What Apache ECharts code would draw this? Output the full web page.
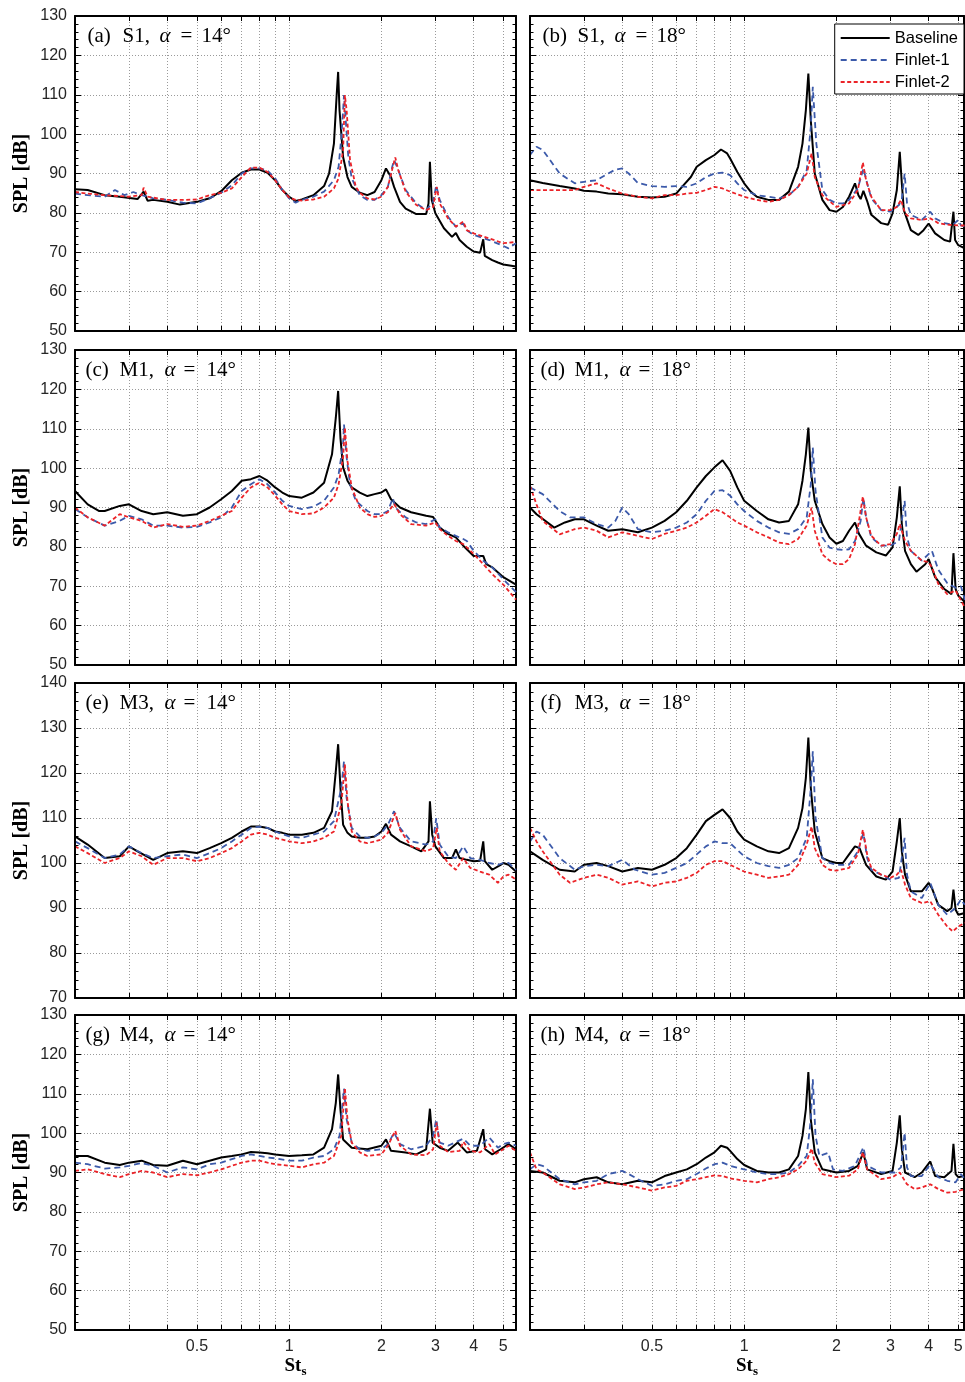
<!DOCTYPE html>
<html>
<head>
<meta charset="utf-8">
<script src="https://cdn.jsdelivr.net/npm/echarts@6/dist/echarts.min.js"></script>
<style>
  html, body { margin: 0; padding: 0; background: #fff; }
  #chart { width: 965px; height: 1382px; }
</style>
</head>
<body>
<div id="chart"></div>
<script>
// ---- axis ticks / labels -------------------------------------------------
const xGridValues  = [0.2, 0.3, 0.4, 0.5, 0.6, 0.7, 0.8, 0.9, 1, 2, 3, 4, 5];
const xLabelValues = [0.5, 1, 2, 3, 4, 5];
const xRange = [0.2, 5.5];
const yRangeDefault = [50, 130];
const yRangeM3 = [70, 140];

// ---- spectra: [St_s, SPL dB] ---------------------------------------------
// S1, alpha = 14
const s1_14_base = [[0.2,86.0],[0.22,85.8],[0.25,84.5],[0.28,84.1],[0.32,83.5],[0.335,85.4],[0.345,83.1],[0.36,83.3],[0.4,82.8],[0.44,82.1],[0.5,82.8],[0.55,83.7],[0.6,85.5],[0.65,88.3],[0.7,90.2],[0.75,91.0],[0.8,91.0],[0.85,90.2],[0.9,88.3],[0.95,85.8],[1.0,84.1],[1.05,83.0],[1.1,83.4],[1.2,84.5],[1.3,86.8],[1.35,90.0],[1.4,97.6],[1.43,110.3],[1.445,115.8],[1.46,106.1],[1.5,94.2],[1.55,89.1],[1.6,86.6],[1.7,85.1],[1.8,84.5],[1.9,85.3],[2.0,88.3],[2.07,91.3],[2.15,89.1],[2.2,86.6],[2.3,82.8],[2.4,81.1],[2.6,79.7],[2.8,79.7],[2.85,82.4],[2.88,93.0],[2.92,83.3],[3.0,79.9],[3.2,76.1],[3.4,73.9],[3.5,74.9],[3.6,73.1],[3.8,71.4],[4.0,70.2],[4.2,69.9],[4.3,73.3],[4.35,69.1],[4.6,68.0],[4.8,67.4],[5.0,66.9],[5.5,66.4]];
const s1_14_fin1 = [[0.2,84.9],[0.22,84.5],[0.25,84.1],[0.27,85.8],[0.29,84.5],[0.31,85.3],[0.33,84.5],[0.36,83.7],[0.4,83.3],[0.45,82.6],[0.5,82.4],[0.55,83.7],[0.6,85.1],[0.65,87.0],[0.7,90.0],[0.75,91.3],[0.8,91.3],[0.85,90.7],[0.9,88.8],[0.95,85.8],[1.0,83.7],[1.05,82.6],[1.1,83.3],[1.2,84.1],[1.3,85.4],[1.4,88.3],[1.45,91.7],[1.48,99.3],[1.5,106.1],[1.51,109.9],[1.53,103.5],[1.56,94.2],[1.6,88.8],[1.7,84.5],[1.8,83.3],[1.9,83.3],[2.0,84.5],[2.1,86.6],[2.17,91.7],[2.2,93.4],[2.25,91.7],[2.4,85.8],[2.6,82.4],[2.8,80.7],[2.95,82.8],[3.02,87.0],[3.1,83.3],[3.3,79.0],[3.5,76.5],[3.7,77.3],[3.8,75.6],[4.0,74.4],[4.5,73.1],[5.0,71.6],[5.2,71.0],[5.5,72.3]];
const s1_14_fin2 = [[0.2,85.3],[0.22,84.9],[0.25,84.5],[0.3,84.1],[0.33,84.5],[0.335,86.4],[0.345,84.1],[0.4,83.3],[0.45,83.3],[0.5,83.4],[0.55,84.5],[0.6,85.1],[0.65,86.2],[0.7,89.1],[0.75,91.5],[0.8,91.5],[0.85,90.4],[0.9,88.3],[0.95,85.8],[1.0,83.9],[1.05,83.3],[1.1,83.1],[1.2,83.4],[1.3,84.1],[1.4,86.2],[1.45,88.8],[1.5,95.9],[1.52,109.9],[1.54,106.1],[1.58,93.4],[1.65,86.6],[1.7,85.1],[1.8,83.7],[1.9,83.4],[2.0,84.1],[2.1,86.6],[2.18,91.7],[2.22,94.1],[2.27,90.9],[2.4,85.4],[2.6,82.0],[2.8,80.7],[2.95,81.5],[3.03,86.6],[3.1,82.4],[3.3,78.6],[3.5,76.5],[3.7,77.8],[3.8,75.6],[4.0,74.8],[4.5,73.5],[5.0,72.3],[5.5,72.6]];

// S1, alpha = 18
const s1_18_base = [[0.2,88.3],[0.22,87.6],[0.25,86.8],[0.28,86.2],[0.3,85.6],[0.33,85.4],[0.36,84.9],[0.4,84.7],[0.45,84.1],[0.5,83.9],[0.55,84.1],[0.6,84.9],[0.63,86.8],[0.67,89.1],[0.7,91.7],[0.75,93.4],[0.8,94.7],[0.84,96.1],[0.88,95.1],[0.9,93.8],[0.95,90.4],[1.0,87.5],[1.05,85.4],[1.1,84.1],[1.2,83.3],[1.3,83.3],[1.4,85.4],[1.5,91.7],[1.55,97.6],[1.59,106.1],[1.62,115.4],[1.65,103.5],[1.7,90.0],[1.8,83.3],[1.9,80.7],[2.0,80.3],[2.1,81.5],[2.2,84.1],[2.3,87.5],[2.36,84.5],[2.4,83.5],[2.45,85.6],[2.52,83.0],[2.6,79.5],[2.8,77.4],[2.95,77.0],[3.05,79.9],[3.15,85.8],[3.22,95.5],[3.27,87.5],[3.32,80.7],[3.5,75.6],[3.7,74.4],[3.85,75.6],[4.0,77.3],[4.2,74.8],[4.5,73.1],[4.7,72.7],[4.82,80.3],[4.88,73.1],[5.0,71.8],[5.25,71.0]];
const s1_18_fin1 = [[0.2,94.7],[0.21,96.8],[0.22,96.0],[0.25,90.0],[0.28,87.5],[0.3,87.9],[0.33,88.3],[0.36,90.0],[0.38,91.0],[0.4,91.3],[0.42,90.0],[0.45,87.6],[0.5,86.8],[0.55,86.6],[0.6,86.8],[0.65,86.6],[0.7,87.5],[0.75,89.1],[0.8,90.0],[0.85,90.2],[0.9,89.6],[0.95,87.5],[1.0,85.8],[1.1,84.5],[1.2,84.1],[1.3,83.7],[1.4,84.5],[1.5,86.6],[1.6,90.8],[1.65,101.8],[1.675,112.0],[1.72,97.6],[1.8,85.8],[1.9,83.3],[2.0,82.4],[2.1,82.4],[2.2,83.3],[2.35,86.2],[2.45,91.3],[2.52,87.5],[2.6,83.7],[2.8,80.7],[3.0,80.3],[3.2,82.0],[3.27,83.5],[3.34,90.0],[3.4,82.5],[3.5,79.5],[3.8,78.2],[4.05,80.3],[4.2,78.6],[4.5,77.4],[4.8,77.0],[5.0,78.2],[5.1,76.8],[5.25,76.5]];
const s1_18_fin2 = [[0.2,85.8],[0.25,85.8],[0.28,85.8],[0.3,86.6],[0.33,87.5],[0.36,86.2],[0.4,84.9],[0.45,84.1],[0.5,83.7],[0.55,84.5],[0.6,84.5],[0.65,84.9],[0.7,85.1],[0.75,85.8],[0.8,86.6],[0.85,86.2],[0.9,85.4],[1.0,84.1],[1.1,83.3],[1.2,82.8],[1.3,83.3],[1.4,84.5],[1.5,86.6],[1.6,90.0],[1.66,95.1],[1.7,89.1],[1.8,84.5],[2.0,81.5],[2.2,82.4],[2.35,85.8],[2.44,92.8],[2.5,88.3],[2.6,84.1],[2.8,80.7],[3.0,80.7],[3.15,81.5],[3.25,83.3],[3.35,79.9],[3.5,78.6],[3.8,78.2],[4.05,78.6],[4.3,77.4],[4.6,77.0],[5.0,76.8],[5.25,76.8]];

// M1, alpha = 14
const m1_14_base = [[0.2,94.2],[0.22,90.8],[0.24,89.1],[0.25,89.1],[0.28,90.4],[0.3,90.8],[0.33,89.1],[0.36,88.3],[0.4,88.8],[0.45,87.9],[0.5,88.3],[0.55,90.0],[0.6,92.1],[0.65,94.2],[0.7,96.8],[0.75,97.2],[0.8,98.0],[0.85,96.8],[0.9,95.1],[0.95,93.8],[1.0,92.9],[1.1,92.5],[1.2,93.8],[1.3,96.3],[1.38,103.5],[1.42,112.8],[1.445,119.6],[1.47,107.7],[1.5,100.2],[1.55,96.8],[1.6,95.1],[1.7,93.8],[1.8,92.9],[1.9,93.4],[2.0,93.8],[2.07,94.6],[2.15,92.1],[2.3,90.0],[2.5,88.8],[2.8,87.9],[2.95,87.6],[3.1,84.9],[3.3,83.3],[3.5,82.4],[3.7,80.3],[4.0,77.7],[4.3,77.7],[4.4,75.6],[4.6,74.8],[5.0,72.3],[5.5,70.4]];
const m1_14_fin1 = [[0.2,89.6],[0.22,87.5],[0.25,85.4],[0.28,86.6],[0.3,87.9],[0.33,87.0],[0.36,85.4],[0.4,85.4],[0.45,84.9],[0.5,85.1],[0.55,86.2],[0.6,87.5],[0.65,90.0],[0.7,94.2],[0.75,95.9],[0.8,97.2],[0.85,95.9],[0.9,93.8],[0.95,91.7],[1.0,90.4],[1.1,89.6],[1.2,90.2],[1.3,91.7],[1.4,95.1],[1.45,98.4],[1.5,106.1],[1.51,111.1],[1.54,102.7],[1.58,95.9],[1.65,91.7],[1.8,89.1],[1.9,88.3],[2.0,88.3],[2.1,89.1],[2.18,92.4],[2.22,90.0],[2.4,87.5],[2.6,86.2],[2.8,85.8],[3.0,87.0],[3.1,84.9],[3.3,83.7],[3.5,82.8],[3.7,82.0],[3.8,81.5],[4.0,79.0],[4.3,76.5],[4.6,74.8],[5.0,71.8],[5.5,68.5]];
const m1_14_fin2 = [[0.2,90.0],[0.22,87.5],[0.25,85.4],[0.28,88.3],[0.3,87.5],[0.33,86.6],[0.36,84.9],[0.4,85.8],[0.45,85.1],[0.5,85.4],[0.55,86.6],[0.6,87.9],[0.65,89.1],[0.7,92.5],[0.75,95.1],[0.8,96.3],[0.85,95.1],[0.9,93.0],[0.95,90.8],[1.0,89.1],[1.1,88.3],[1.2,88.5],[1.3,90.0],[1.4,92.5],[1.45,95.9],[1.5,102.7],[1.52,110.3],[1.55,101.8],[1.6,95.1],[1.7,90.0],[1.8,88.3],[1.9,87.6],[2.0,87.9],[2.1,88.8],[2.2,90.9],[2.3,88.3],[2.5,85.8],[2.8,85.4],[3.0,86.2],[3.1,84.5],[3.3,82.8],[3.5,81.5],[3.7,80.7],[4.0,78.2],[4.3,75.6],[4.6,73.1],[5.0,70.4],[5.5,66.6]];

// M1, alpha = 18
const m1_18_base = [[0.2,90.0],[0.21,88.3],[0.24,84.9],[0.26,86.2],[0.28,87.0],[0.3,87.0],[0.33,85.4],[0.36,84.1],[0.4,84.5],[0.45,83.7],[0.5,84.9],[0.55,86.6],[0.6,88.8],[0.65,91.7],[0.7,95.1],[0.75,98.0],[0.8,100.2],[0.85,102.0],[0.9,99.3],[0.95,95.1],[1.0,91.7],[1.1,89.1],[1.2,87.0],[1.3,86.2],[1.4,86.6],[1.5,90.8],[1.55,96.8],[1.59,103.5],[1.62,110.3],[1.65,99.3],[1.7,91.7],[1.8,85.8],[1.9,82.4],[2.0,80.8],[2.1,81.5],[2.2,84.1],[2.3,86.2],[2.37,83.3],[2.5,80.3],[2.7,78.6],[2.9,77.8],[3.05,79.9],[3.15,87.5],[3.22,95.4],[3.27,85.8],[3.35,79.0],[3.5,75.6],[3.65,73.7],[3.9,75.6],[4.0,76.9],[4.2,72.3],[4.5,69.3],[4.75,68.0],[4.82,78.4],[4.9,69.3],[5.0,67.6],[5.25,66.0]];
const m1_18_fin1 = [[0.2,95.1],[0.22,93.4],[0.25,89.1],[0.27,87.5],[0.3,87.5],[0.33,85.8],[0.36,84.9],[0.38,86.6],[0.4,90.0],[0.42,88.3],[0.45,84.5],[0.5,83.7],[0.55,84.1],[0.6,84.9],[0.65,86.2],[0.7,88.3],[0.75,91.7],[0.8,94.2],[0.85,94.4],[0.9,93.0],[0.95,90.8],[1.0,89.1],[1.1,86.6],[1.2,84.9],[1.3,83.7],[1.4,83.3],[1.5,84.5],[1.6,87.5],[1.65,95.9],[1.675,105.2],[1.71,94.2],[1.8,82.4],[1.9,79.8],[2.0,79.4],[2.1,79.2],[2.2,79.4],[2.3,81.5],[2.4,86.6],[2.45,92.5],[2.5,87.5],[2.6,82.4],[2.8,80.3],[3.0,80.3],[3.2,81.5],[3.34,91.7],[3.4,82.4],[3.5,79.0],[3.8,76.5],[4.1,79.0],[4.3,74.2],[4.6,70.8],[4.9,69.6],[5.1,70.0],[5.25,66.5]];
const m1_18_fin2 = [[0.2,95.5],[0.21,90.8],[0.22,86.6],[0.25,83.2],[0.28,84.5],[0.3,84.9],[0.33,84.1],[0.36,82.4],[0.4,83.7],[0.45,82.8],[0.5,82.0],[0.55,83.3],[0.6,84.1],[0.65,84.9],[0.7,86.2],[0.75,87.9],[0.8,89.6],[0.85,88.8],[0.9,87.5],[0.95,86.2],[1.0,85.4],[1.1,83.7],[1.2,82.4],[1.3,81.1],[1.4,80.7],[1.5,82.0],[1.6,85.4],[1.66,90.0],[1.7,84.1],[1.8,78.1],[1.9,76.5],[2.0,75.6],[2.1,75.6],[2.2,76.9],[2.3,80.7],[2.38,87.5],[2.44,92.8],[2.5,87.5],[2.6,82.8],[2.8,80.3],[3.0,80.7],[3.15,83.3],[3.22,85.8],[3.35,81.5],[3.5,79.0],[3.8,76.5],[4.0,76.1],[4.1,74.8],[4.3,70.6],[4.6,68.0],[4.9,68.9],[5.25,64.6]];

// M3, alpha = 14
const m3_14_base = [[0.2,105.9],[0.22,104.1],[0.25,101.1],[0.28,101.5],[0.3,103.7],[0.32,102.6],[0.36,100.7],[0.4,102.2],[0.45,102.6],[0.5,102.2],[0.55,103.3],[0.6,104.4],[0.65,105.6],[0.7,107.0],[0.75,108.1],[0.8,108.1],[0.85,107.8],[0.9,107.0],[0.95,106.7],[1.0,106.3],[1.1,106.3],[1.2,106.7],[1.3,107.8],[1.38,111.5],[1.42,120.4],[1.445,126.4],[1.47,116.7],[1.5,108.5],[1.55,106.7],[1.6,105.9],[1.7,105.6],[1.8,105.6],[1.9,105.9],[2.0,107.0],[2.07,108.7],[2.15,106.3],[2.3,104.8],[2.5,103.7],[2.7,102.6],[2.85,104.8],[2.88,113.7],[2.93,106.3],[3.0,103.7],[3.2,101.1],[3.4,101.1],[3.5,103.0],[3.6,101.1],[3.8,100.7],[4.0,100.4],[4.2,100.5],[4.3,104.8],[4.35,100.4],[4.6,98.5],[4.9,99.6],[5.0,100.0],[5.2,99.6],[5.5,98.1]];
const m3_14_fin1 = [[0.2,104.8],[0.22,103.3],[0.25,101.1],[0.28,101.9],[0.3,103.7],[0.33,102.2],[0.36,101.1],[0.4,101.5],[0.45,101.9],[0.5,101.1],[0.55,102.2],[0.6,103.3],[0.65,104.8],[0.7,106.3],[0.75,107.8],[0.8,108.1],[0.85,107.8],[0.9,107.0],[1.0,105.9],[1.1,105.6],[1.2,106.3],[1.3,107.0],[1.4,109.3],[1.48,116.7],[1.51,122.6],[1.54,114.4],[1.6,107.8],[1.7,105.9],[1.8,105.6],[1.9,105.9],[2.0,106.7],[2.1,108.5],[2.2,111.5],[2.3,107.8],[2.5,104.8],[2.8,104.1],[2.95,104.8],[3.02,110.0],[3.1,104.1],[3.3,101.5],[3.5,101.1],[3.7,103.7],[3.9,101.1],[4.2,100.7],[4.5,100.0],[4.8,99.6],[5.0,100.0],[5.2,100.0],[5.5,98.5]];
const m3_14_fin2 = [[0.2,103.7],[0.22,102.2],[0.25,100.0],[0.28,101.1],[0.3,102.6],[0.33,101.5],[0.36,99.6],[0.4,101.1],[0.45,101.1],[0.5,100.4],[0.55,101.1],[0.6,102.2],[0.65,103.3],[0.7,104.8],[0.75,106.3],[0.8,106.7],[0.85,106.3],[0.9,105.6],[1.0,104.8],[1.1,104.4],[1.2,104.8],[1.3,105.6],[1.4,107.0],[1.48,113.0],[1.52,121.9],[1.55,113.7],[1.6,107.0],[1.7,104.8],[1.8,104.4],[1.9,104.8],[2.0,105.2],[2.1,106.7],[2.22,111.1],[2.3,107.4],[2.5,103.7],[2.8,102.6],[2.95,103.3],[3.03,107.8],[3.1,102.6],[3.3,100.0],[3.5,98.5],[3.7,101.1],[3.9,98.9],[4.2,98.1],[4.5,97.4],[4.8,95.6],[5.0,97.0],[5.2,97.4],[5.5,96.3]];

// M3, alpha = 18
const m3_18_base = [[0.2,102.6],[0.22,100.7],[0.25,98.5],[0.28,98.1],[0.3,99.6],[0.33,100.0],[0.36,99.3],[0.4,98.1],[0.45,98.9],[0.5,98.5],[0.55,99.6],[0.6,101.1],[0.65,103.3],[0.7,106.3],[0.75,109.3],[0.8,110.7],[0.85,111.9],[0.9,110.0],[0.95,107.0],[1.0,105.2],[1.1,103.7],[1.2,102.6],[1.3,102.2],[1.4,103.3],[1.5,107.8],[1.55,112.2],[1.59,118.9],[1.62,127.9],[1.65,116.7],[1.7,107.0],[1.8,101.1],[1.9,100.4],[2.0,100.0],[2.1,100.0],[2.2,101.9],[2.3,103.7],[2.38,103.3],[2.5,99.6],[2.7,97.0],[2.9,96.3],[3.05,98.1],[3.15,104.8],[3.22,110.0],[3.27,102.6],[3.35,97.4],[3.5,93.7],[3.8,93.7],[4.0,95.6],[4.1,94.4],[4.3,90.7],[4.6,89.3],[4.75,90.0],[4.82,94.1],[4.9,89.6],[5.0,88.5],[5.25,88.9]];
const m3_18_fin1 = [[0.2,104.8],[0.21,107.0],[0.22,106.3],[0.25,101.1],[0.28,98.5],[0.3,99.3],[0.33,99.6],[0.36,99.3],[0.4,100.7],[0.44,98.5],[0.5,97.4],[0.55,97.8],[0.6,98.9],[0.65,100.0],[0.7,101.9],[0.75,103.7],[0.8,104.8],[0.85,104.4],[0.9,104.4],[1.0,101.5],[1.1,100.0],[1.2,99.3],[1.3,98.9],[1.4,99.6],[1.5,101.1],[1.6,105.6],[1.65,116.7],[1.675,124.8],[1.71,110.0],[1.8,101.1],[1.9,100.0],[2.0,99.6],[2.2,99.6],[2.35,102.6],[2.45,106.7],[2.52,101.1],[2.6,98.5],[2.8,97.4],[3.0,96.3],[3.2,96.7],[3.34,105.6],[3.4,97.4],[3.5,93.7],[3.8,92.2],[4.05,95.6],[4.3,90.7],[4.6,88.5],[4.9,90.0],[5.1,91.9],[5.25,90.7]];
const m3_18_fin2 = [[0.2,107.8],[0.21,104.8],[0.22,102.6],[0.25,97.4],[0.27,95.6],[0.3,96.7],[0.33,97.4],[0.36,96.7],[0.4,95.2],[0.45,95.9],[0.5,94.8],[0.55,95.6],[0.6,95.9],[0.65,96.7],[0.7,97.8],[0.75,99.6],[0.8,100.4],[0.85,100.4],[0.9,99.6],[1.0,98.1],[1.1,97.4],[1.2,96.7],[1.3,97.0],[1.4,97.4],[1.5,99.6],[1.6,104.1],[1.66,108.1],[1.7,103.3],[1.8,99.6],[1.9,98.5],[2.0,98.3],[2.2,98.9],[2.35,101.9],[2.44,107.4],[2.52,101.9],[2.6,98.9],[2.8,97.4],[3.0,96.7],[3.15,97.4],[3.25,98.5],[3.35,95.2],[3.5,92.2],[3.8,91.1],[4.05,91.5],[4.3,88.5],[4.6,85.9],[4.8,84.8],[5.0,85.9],[5.25,86.7]];

// M4, alpha = 14
const m4_14_base = [[0.2,94.2],[0.22,94.2],[0.25,92.5],[0.28,91.9],[0.3,92.5],[0.33,93.0],[0.36,91.9],[0.4,91.7],[0.45,93.0],[0.5,92.1],[0.55,93.0],[0.6,93.8],[0.65,94.2],[0.7,94.6],[0.75,95.2],[0.8,95.1],[0.85,94.9],[0.9,94.6],[1.0,94.2],[1.1,94.4],[1.2,94.6],[1.3,96.3],[1.38,101.0],[1.42,107.7],[1.445,114.9],[1.47,106.1],[1.5,98.4],[1.6,96.3],[1.8,95.9],[2.0,96.8],[2.07,98.4],[2.15,95.5],[2.4,95.1],[2.6,94.6],[2.8,95.9],[2.88,106.2],[2.94,97.6],[3.1,96.3],[3.3,95.5],[3.55,97.6],[3.8,95.1],[4.1,95.5],[4.3,101.0],[4.36,95.9],[4.6,94.6],[4.9,95.9],[5.2,97.2],[5.5,95.9]];
const m4_14_fin1 = [[0.2,92.5],[0.22,92.1],[0.25,91.0],[0.28,91.3],[0.3,91.7],[0.33,92.4],[0.36,91.7],[0.4,90.0],[0.45,91.3],[0.5,90.8],[0.55,92.1],[0.6,92.5],[0.65,93.4],[0.7,94.2],[0.75,94.6],[0.8,94.2],[0.85,93.8],[0.9,93.6],[1.0,93.0],[1.1,93.0],[1.2,93.8],[1.3,94.2],[1.4,95.9],[1.46,99.3],[1.51,111.3],[1.54,103.5],[1.6,97.6],[1.7,95.9],[1.8,95.5],[2.0,95.9],[2.1,97.2],[2.2,100.1],[2.3,97.2],[2.5,95.9],[2.8,96.8],[2.95,99.3],[3.02,103.5],[3.1,97.6],[3.3,96.8],[3.7,98.6],[3.9,96.8],[4.2,96.8],[4.5,98.9],[4.8,96.3],[5.0,97.2],[5.2,97.6],[5.5,96.8]];
const m4_14_fin2 = [[0.2,90.4],[0.22,90.8],[0.25,89.6],[0.28,88.8],[0.3,89.6],[0.33,90.4],[0.36,90.0],[0.4,88.8],[0.45,89.6],[0.5,89.3],[0.55,90.0],[0.6,90.8],[0.65,91.7],[0.7,92.5],[0.75,93.0],[0.8,93.0],[0.85,92.5],[0.9,92.1],[1.0,91.7],[1.1,91.3],[1.2,92.1],[1.3,92.5],[1.4,94.2],[1.48,99.3],[1.52,111.5],[1.55,103.5],[1.6,97.6],[1.7,95.1],[1.8,94.2],[2.0,94.6],[2.1,96.8],[2.22,100.6],[2.3,96.8],[2.5,94.6],[2.8,94.4],[2.95,95.9],[3.03,102.7],[3.1,96.8],[3.3,95.2],[3.6,95.5],[3.7,97.8],[3.9,95.5],[4.2,95.1],[4.5,97.2],[4.7,94.6],[5.0,95.9],[5.2,96.8],[5.5,95.5]];

// M4, alpha = 18
const m4_18_base = [[0.2,90.4],[0.22,90.0],[0.25,87.9],[0.28,87.5],[0.3,88.3],[0.33,88.8],[0.36,87.5],[0.4,87.0],[0.45,87.9],[0.5,87.5],[0.55,89.1],[0.6,90.0],[0.65,90.8],[0.7,92.1],[0.75,93.8],[0.8,95.1],[0.84,96.8],[0.88,96.3],[0.9,95.5],[0.95,93.4],[1.0,91.9],[1.1,90.4],[1.2,90.0],[1.3,90.0],[1.4,90.8],[1.5,94.2],[1.55,99.3],[1.59,106.1],[1.62,115.5],[1.65,103.5],[1.7,95.1],[1.8,90.8],[2.0,90.0],[2.2,90.4],[2.35,91.7],[2.45,95.1],[2.52,90.8],[2.8,89.6],[3.05,90.4],[3.15,97.6],[3.22,104.5],[3.27,96.0],[3.35,90.0],[3.6,88.8],[3.8,90.0],[4.05,92.8],[4.2,89.1],[4.5,88.8],[4.75,90.4],[4.82,97.3],[4.9,89.6],[5.0,88.8],[5.25,89.2]];
const m4_18_fin1 = [[0.2,90.8],[0.21,92.1],[0.22,91.7],[0.25,88.3],[0.28,87.0],[0.3,87.5],[0.33,87.9],[0.36,89.6],[0.38,90.0],[0.4,90.4],[0.42,89.6],[0.45,88.3],[0.5,86.6],[0.55,87.0],[0.6,87.9],[0.65,88.3],[0.7,89.6],[0.75,91.0],[0.8,92.1],[0.85,92.5],[0.9,91.7],[1.0,90.8],[1.1,90.0],[1.2,89.6],[1.3,89.6],[1.4,90.0],[1.5,91.7],[1.6,94.2],[1.65,103.5],[1.675,113.7],[1.71,99.3],[1.76,94.2],[1.88,95.0],[1.95,90.8],[2.1,90.4],[2.3,91.7],[2.45,96.4],[2.52,91.7],[2.8,90.0],[3.1,90.0],[3.25,91.3],[3.34,100.1],[3.4,91.3],[3.5,89.1],[3.8,89.1],[4.05,92.1],[4.3,88.8],[4.6,87.9],[4.9,87.5],[5.1,89.6],[5.25,88.3]];
const m4_18_fin2 = [[0.2,95.1],[0.21,90.8],[0.22,90.0],[0.25,87.0],[0.28,85.8],[0.3,86.2],[0.33,87.0],[0.36,87.5],[0.4,87.0],[0.45,86.2],[0.5,85.4],[0.55,86.2],[0.6,86.6],[0.65,87.9],[0.7,88.3],[0.75,88.8],[0.8,89.3],[0.85,89.1],[0.9,88.5],[1.0,87.9],[1.1,87.5],[1.2,88.3],[1.3,88.8],[1.4,89.6],[1.5,90.8],[1.6,93.0],[1.66,96.1],[1.7,92.5],[1.8,89.6],[2.0,88.8],[2.2,89.2],[2.35,90.8],[2.44,95.2],[2.52,90.8],[2.8,88.3],[3.05,88.8],[3.22,90.0],[3.4,87.0],[3.6,85.8],[3.8,86.2],[4.05,87.0],[4.3,85.8],[4.6,84.9],[4.9,85.1],[5.25,85.8]];

// ---- panel list ----------------------------------------------------------
const seriesNames = ['Baseline', 'Finlet-1', 'Finlet-2'];
const panels = [
  { tag: '(a)', probe: 'S1', aoa: 14, row: 0, col: 0, y: yRangeDefault, data: [s1_14_base, s1_14_fin1, s1_14_fin2] },
  { tag: '(b)', probe: 'S1', aoa: 18, row: 0, col: 1, y: yRangeDefault, data: [s1_18_base, s1_18_fin1, s1_18_fin2] },
  { tag: '(c)', probe: 'M1', aoa: 14, row: 1, col: 0, y: yRangeDefault, data: [m1_14_base, m1_14_fin1, m1_14_fin2] },
  { tag: '(d)', probe: 'M1', aoa: 18, row: 1, col: 1, y: yRangeDefault, data: [m1_18_base, m1_18_fin1, m1_18_fin2] },
  { tag: '(e)', probe: 'M3', aoa: 14, row: 2, col: 0, y: yRangeM3,      data: [m3_14_base, m3_14_fin1, m3_14_fin2] },
  { tag: '(f)', probe: 'M3', aoa: 18, row: 2, col: 1, y: yRangeM3,      data: [m3_18_base, m3_18_fin1, m3_18_fin2] },
  { tag: '(g)', probe: 'M4', aoa: 14, row: 3, col: 0, y: yRangeDefault, data: [m4_14_base, m4_14_fin1, m4_14_fin2] },
  { tag: '(h)', probe: 'M4', aoa: 18, row: 3, col: 1, y: yRangeDefault, data: [m4_18_base, m4_18_fin1, m4_18_fin2] }
];

// ---- layout & styles -----------------------------------------------------
const GRID_LEFT = [75, 530];
const GRID_WIDTH = [441, 434];
const GRID_TOP = [16, 350, 683, 1015];
const GRID_HEIGHT = 315;
const LINE_STYLES = [
  { color: '#000000', width: 2.0, type: 'solid' },
  { color: '#3c5aaa', width: 1.8, type: [6, 4] },
  { color: '#eb2328', width: 1.8, type: [4, 2.5] }
];
const SANS = 'Liberation Sans, Arial, sans-serif';
const SERIF = 'Liberation Serif, Times New Roman, serif';
const GRID_LINE = { color: '#9a9a9a', width: 1, type: [1, 2] };

const lg = Math.log10;
const xMinLog = lg(xRange[0]);
const pxPerDecade = GRID_WIDTH[0] / (lg(xRange[1]) - xMinLog);
const xMaxLog = c => xMinLog + GRID_WIDTH[c] / pxPerDecade;
const fmtSt = v => {
  const s = Math.pow(10, v);
  return s < 1 ? s.toFixed(1) : String(Math.round(s));
};

const grids = [], xAxes = [], yAxes = [], series = [], titles = [];

panels.forEach((p, i) => {
  const left = GRID_LEFT[p.col];
  const top = GRID_TOP[p.row];
  grids.push({ left, top, width: GRID_WIDTH[p.col], height: GRID_HEIGHT, containLabel: false, outerBoundsMode: 'none' });

  const isBottomRow = p.row === 3;
  const isLeftCol = p.col === 0;
  const xmin = xMinLog, xmax = xMaxLog(p.col);

  // bottom x axis: frame, ticks, labels
  xAxes.push({
    type: 'value', gridIndex: i, position: 'bottom', min: xmin, max: xmax, z: 5,
    axisLine: { show: true, onZero: false, lineStyle: { color: '#000', width: 2 } },
    axisTick: { show: true, inside: true, length: 5, customValues: xGridValues.map(lg), lineStyle: { color: '#000', width: 1 } },
    axisLabel: { show: isBottomRow, customValues: xLabelValues.map(lg), formatter: fmtSt, margin: 9,
                 fontFamily: SANS, fontSize: 16, color: '#262626' },
    splitLine: { show: false },
    name: isBottomRow ? '{a|St}{b|s}' : '',
    nameLocation: 'middle', nameGap: 24,
    nameTextStyle: { rich: {
      a: { fontFamily: SERIF, fontWeight: 'bold', fontSize: 19, lineHeight: 24, color: '#000' },
      b: { fontFamily: SERIF, fontWeight: 'bold', fontSize: 13, lineHeight: 14, verticalAlign: 'bottom', color: '#000' }
    } }
  });
  // top x axis: frame, ticks, vertical dotted grid
  xAxes.push({
    type: 'value', gridIndex: i, position: 'top', min: xmin, max: xmax, z: 1,
    axisLine: { show: true, onZero: false, lineStyle: { color: '#000', width: 2 } },
    axisTick: { show: true, inside: true, length: 5, customValues: xGridValues.map(lg), lineStyle: { color: '#000', width: 1 } },
    axisLabel: { show: false },
    splitLine: { show: true, lineStyle: GRID_LINE }
  });
  // left y axis: frame, ticks, labels
  yAxes.push({
    type: 'value', gridIndex: i, position: 'left', min: p.y[0], max: p.y[1], interval: 10, z: 5,
    axisLine: { show: true, onZero: false, lineStyle: { color: '#000', width: 2 } },
    axisTick: { show: true, inside: true, length: 6, lineStyle: { color: '#000', width: 1 } },
    minorTick: { show: true, splitNumber: 5, length: 3.5, lineStyle: { color: '#000', width: 1 } },
    axisLabel: { show: isLeftCol, margin: 8, fontFamily: SANS, fontSize: 16, color: '#262626',
                 showMinLabel: true, showMaxLabel: true },
    splitLine: { show: false },
    name: isLeftCol ? 'SPL [dB]' : '',
    nameLocation: 'middle', nameRotate: 90, nameGap: 43,
    nameTextStyle: { fontFamily: SERIF, fontWeight: 'bold', fontSize: 20, color: '#000' }
  });
  // right y axis: frame, ticks, horizontal dotted grid
  yAxes.push({
    type: 'value', gridIndex: i, position: 'right', min: p.y[0], max: p.y[1], interval: 10, z: 1,
    axisLine: { show: true, onZero: false, lineStyle: { color: '#000', width: 2 } },
    axisTick: { show: true, inside: true, length: 6, lineStyle: { color: '#000', width: 1 } },
    minorTick: { show: true, splitNumber: 5, length: 3.5, lineStyle: { color: '#000', width: 1 } },
    axisLabel: { show: false },
    splitLine: { show: true, lineStyle: GRID_LINE }
  });

  p.data.forEach((arr, k) => {
    series.push({
      type: 'line', name: seriesNames[k],
      xAxisIndex: 2 * i, yAxisIndex: 2 * i,
      data: arr.map(d => [lg(d[0]), d[1]]),
      symbol: 'none', showSymbol: false, clip: true, z: 2 + k,
      lineStyle: LINE_STYLES[k], itemStyle: { color: LINE_STYLES[k].color },
      emphasis: { disabled: true }
    });
  });

  // panel caption, centred ~86 px right of the frame
  const w = p.probe[0] === 'S' ? [35, 37, 21, 21, 34] : [34, 45, 19, 23, 31];
  const total = w.reduce((a, b) => a + b, 0);
  const base = { fontFamily: SERIF, fontSize: 21, fontWeight: 'normal', lineHeight: 24, color: '#000' };
  titles.push({
    left: left + 86.5 - total / 2, top: top + 8, padding: 0, z: 6,
    text: `{t0|${p.tag}}{t1|${p.probe},}{ti|α}{t2|=}{t3|${p.aoa}°}`,
    textStyle: { fontWeight: 'normal', fontFamily: SERIF, fontSize: 21, rich: {
      t0: Object.assign({ width: w[0] }, base),
      t1: Object.assign({ width: w[1] }, base),
      ti: Object.assign({ width: w[2], fontStyle: 'italic' }, base),
      t2: Object.assign({ width: w[3] }, base),
      t3: Object.assign({ width: w[4] }, base)
    } }
  });
});

const chart = echarts.init(document.getElementById('chart'), null, { renderer: 'canvas', width: 965, height: 1382 });
chart.setOption({
  animation: false,
  backgroundColor: '#ffffff',
  title: titles,
  grid: grids,
  xAxis: xAxes,
  yAxis: yAxes,
  legend: {
    data: seriesNames, orient: 'vertical', right: 1, top: 24, z: 10,
    itemWidth: 49, itemHeight: 14, itemGap: 4,
    padding: [5, 6, 3, 5],
    backgroundColor: '#ffffff', borderColor: '#000', borderWidth: 1, borderRadius: 0,
    itemStyle: { color: 'rgba(0,0,0,0)', borderWidth: 0, opacity: 0 },
    textStyle: { fontFamily: SANS, fontSize: 16.5, color: '#000', lineHeight: 18 },
    selectedMode: false
  },
  series
});
</script>
</body>
</html>
